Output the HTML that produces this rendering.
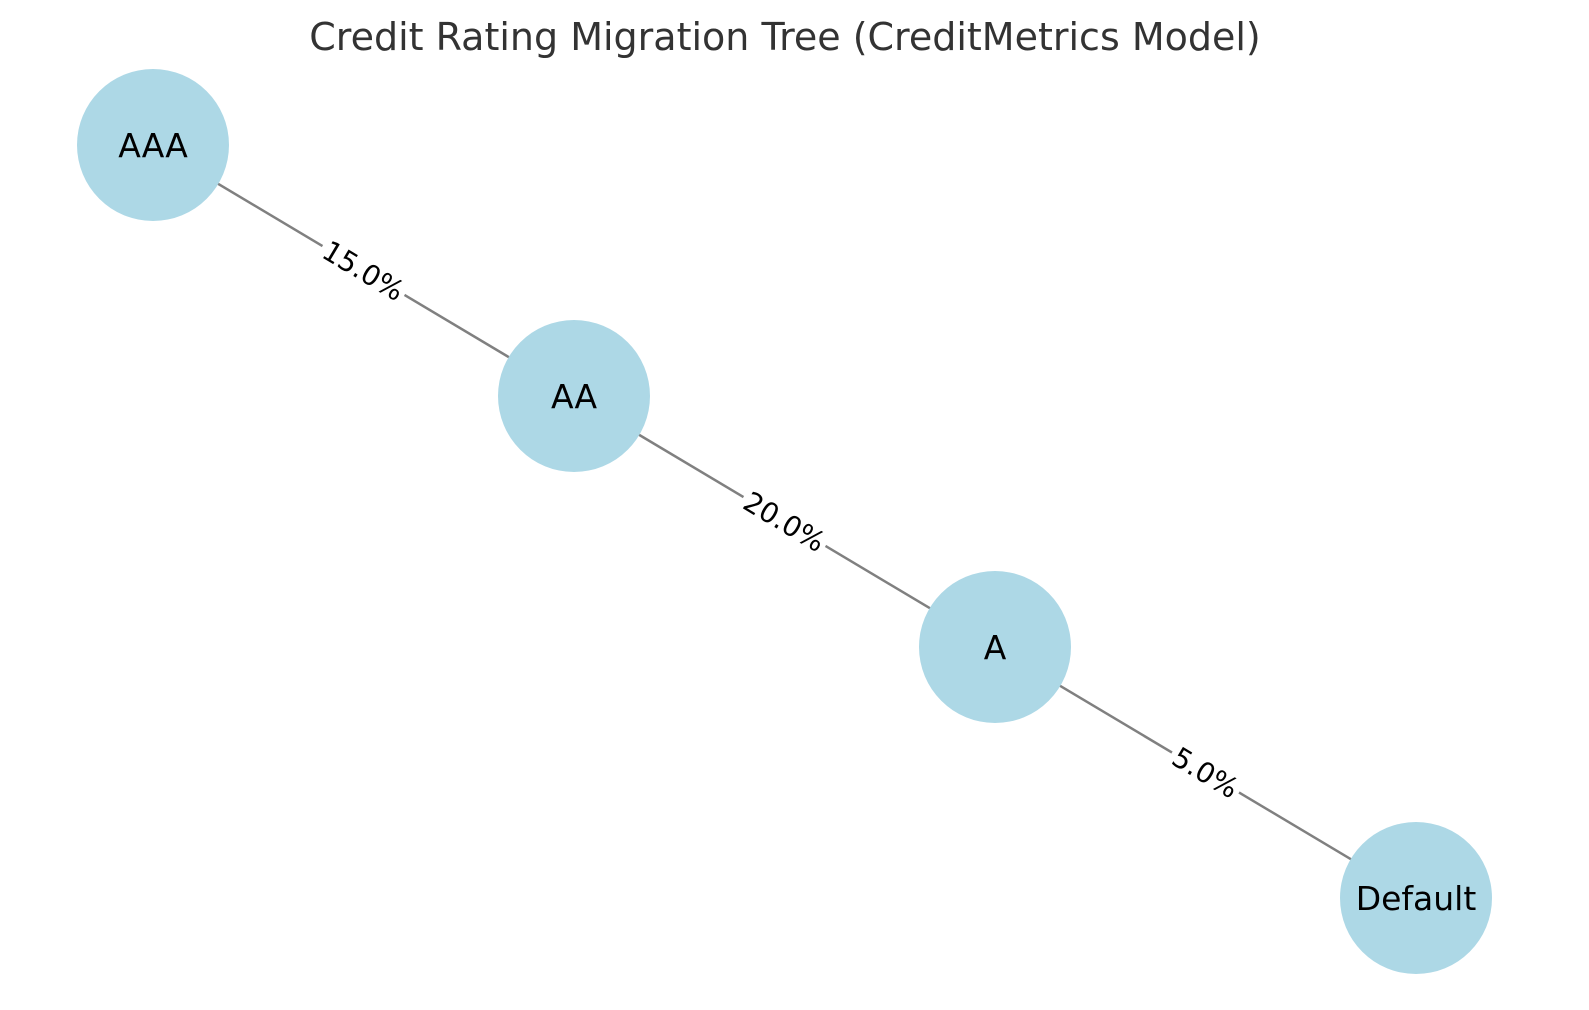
<!DOCTYPE html>
<html><head><meta charset="utf-8"><style>
html,body{margin:0;padding:0;background:#fff;}
svg{display:block;font-family:"DejaVu Sans","Liberation Sans",sans-serif;}
</style></head><body>
<svg id="chart" width="1589" height="1010" viewBox="0 0 1589 1010">
<text x="785" y="50" text-anchor="middle" font-size="38" fill="#333">Credit Rating Migration Tree (CreditMetrics Model)</text>
<g id="edges"></g>
<g id="nodes"></g>
</svg>
<script>
const ratings = ["AAA", "AA", "A", "Default"];
const probs = [15.0, 20.0, 5.0];

const NS = "http://www.w3.org/2000/svg";
const x0 = 153, y0 = 145, dx = 421, dy = 251, R = 76;
function px(i){ return x0 + i*dx; }
function py(i){ return y0 + i*dy; }
const eg = document.getElementById("edges"), ng = document.getElementById("nodes");
const ang = Math.atan2(dy, dx) * 180 / Math.PI;
for (let i = 0; i < probs.length; i++) {
  const l = document.createElementNS(NS, "line");
  l.setAttribute("x1", px(i)); l.setAttribute("y1", py(i));
  l.setAttribute("x2", px(i+1)); l.setAttribute("y2", py(i+1));
  l.setAttribute("stroke", "#808080"); l.setAttribute("stroke-width", "2.5");
  
  
  eg.appendChild(l);
  const mx = (px(i)+px(i+1))/2, my = (py(i)+py(i+1))/2;
  const g = document.createElementNS(NS, "g");
  g.setAttribute("transform", `translate(${mx},${my}) rotate(${ang})`);
  
  
  const t = document.createElementNS(NS, "text");
  t.textContent = probs[i].toFixed(1) + "%";
  t.setAttribute("text-anchor", "middle"); t.setAttribute("y", "10");
  t.setAttribute("font-size", "28"); t.setAttribute("fill", "#000");
  const bw = t.textContent.length * 17.5 + 8;
  const r = document.createElementNS(NS, "rect");
  r.setAttribute("x", -bw/2); r.setAttribute("y", -17); r.setAttribute("width", bw); r.setAttribute("height", 34);
  r.setAttribute("fill", "#fff");
  g.appendChild(r); g.appendChild(t);
  eg.appendChild(g);
}
for (let i = 0; i < ratings.length; i++) {
  const c = document.createElementNS(NS, "circle");
  c.setAttribute("cx", px(i)); c.setAttribute("cy", py(i)); c.setAttribute("r", R);
  c.setAttribute("fill", "#add8e6");
  
  
  ng.appendChild(c);
  const t = document.createElementNS(NS, "text");
  t.textContent = ratings[i];
  t.setAttribute("x", px(i)); t.setAttribute("y", py(i) + 12);
  t.setAttribute("text-anchor", "middle"); t.setAttribute("font-size", "33"); t.setAttribute("fill", "#000");
  
  
  ng.appendChild(t);
}
</script>
</body></html>
